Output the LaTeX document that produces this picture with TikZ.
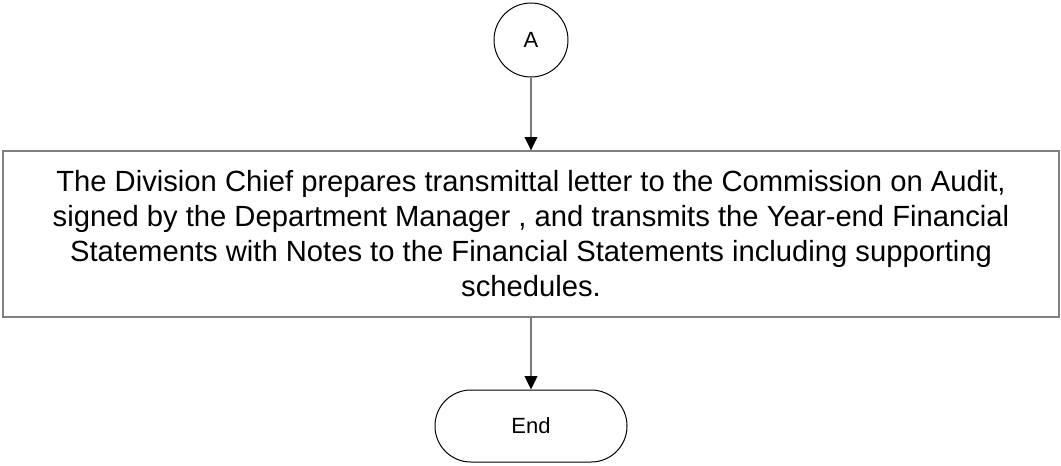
\documentclass[tikz,border=0pt]{standalone}
\usepackage{fontspec}
\setmainfont{Liberation Sans}
\usetikzlibrary{arrows.meta}
\tikzset{
  conn/.style={draw=gray!95!black, line width=1pt, -{Triangle[length=10pt,width=9.5pt,color=black]}},
  connector/.style={circle, draw=black, line width=0.75pt, minimum size=55.5pt, inner sep=0pt, font=\fontsize{16.5}{18}\selectfont},
  processbox/.style={rectangle, draw=gray, line width=1pt, minimum width=792pt, minimum height=124.5pt, inner sep=0pt, align=center, font=\fontsize{21.9}{26.25}\selectfont},
  terminal/.style={rectangle, rounded corners=26.9pt, draw=black, line width=0.75pt, minimum width=144pt, minimum height=54pt, inner sep=0pt, font=\fontsize{16.5}{18}\selectfont}
}
\begin{document}
\begin{tikzpicture}[x=0.75pt,y=-0.75pt]
\useasboundingbox (0,0) rectangle (1061,465);
\node[connector] (a) at (531,40) {A};
\node[processbox] (p) at (531,234) {The Division Chief prepares transmittal letter to the Commission on Audit,\\signed by the Department Manager , and transmits the Year-end Financial\\Statements with Notes to the Financial Statements including supporting\\schedules.};
\node[terminal] (e) at (531,426) {End};
\draw[conn] (a) -- (p);
\draw[conn] (p) -- (e);
\end{tikzpicture}
\end{document}
